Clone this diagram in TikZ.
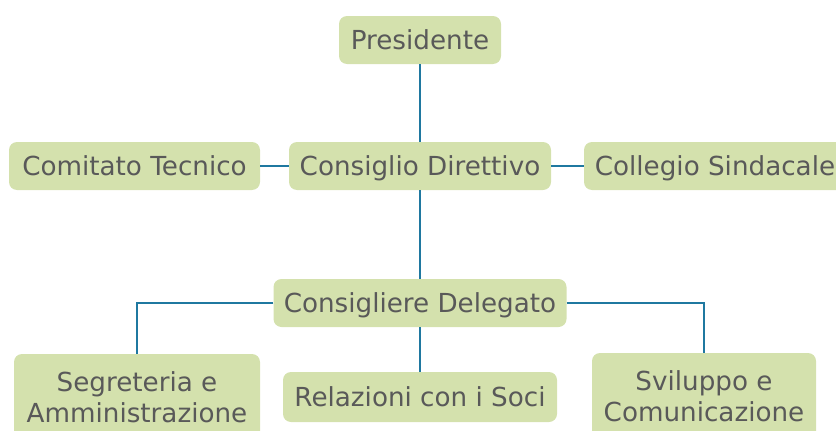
\documentclass[tikz,border=0pt]{standalone}
\usepackage{fontspec}
\setmainfont{DejaVu Sans}
\definecolor{boxfill}{HTML}{D4E1AD}
\definecolor{boxtext}{HTML}{595959}
\definecolor{linkblue}{HTML}{1F78A0}
\begin{document}
\begin{tikzpicture}[x=1pt, y=-1pt,
  box/.style={fill=boxfill, draw=none, rounded corners=8pt, text=boxtext,
    font=\fontsize{26.2}{31}\selectfont, align=center, inner sep=0pt,
    minimum height=48pt},
  oneline/.style={box, text height=25pt, text depth=6pt},
  link/.style={draw=linkblue, line width=1.8pt}]
  \useasboundingbox (0,0) rectangle (836,431);

  \node[oneline, minimum width=162pt] (P) at (420, 40) {Presidente};
  \node[oneline, minimum width=251pt] (CT) at (134.5, 166) {Comitato Tecnico};
  \node[oneline, minimum width=262pt] (CD) at (420, 166) {Consiglio Direttivo};
  \node[oneline, minimum width=262pt] (CS) at (715, 166) {Collegio Sindacale};
  \node[oneline, minimum width=293pt] (DL) at (420, 303) {Consigliere Delegato};
  \node[box, minimum width=246pt, minimum height=86pt] (SA) at (137, 397) {Segreteria e\\Amministrazione};
  \node[oneline, minimum width=274pt, minimum height=50pt] (RS) at (420, 397) {Relazioni con i Soci};
  \node[box, minimum width=224pt, minimum height=86pt] (SC) at (704, 396) {Sviluppo e\\Comunicazione};

  \draw[link] (P) -- (CD);
  \draw[link] (CT) -- (CD);
  \draw[link] (CD) -- (CS);
  \draw[link] (CD) -- (DL);
  \draw[link] (DL) -- (RS);
  \draw[link] (DL.west) -| (SA.north);
  \draw[link] (DL.east) -| (SC.north);
\end{tikzpicture}
\end{document}
